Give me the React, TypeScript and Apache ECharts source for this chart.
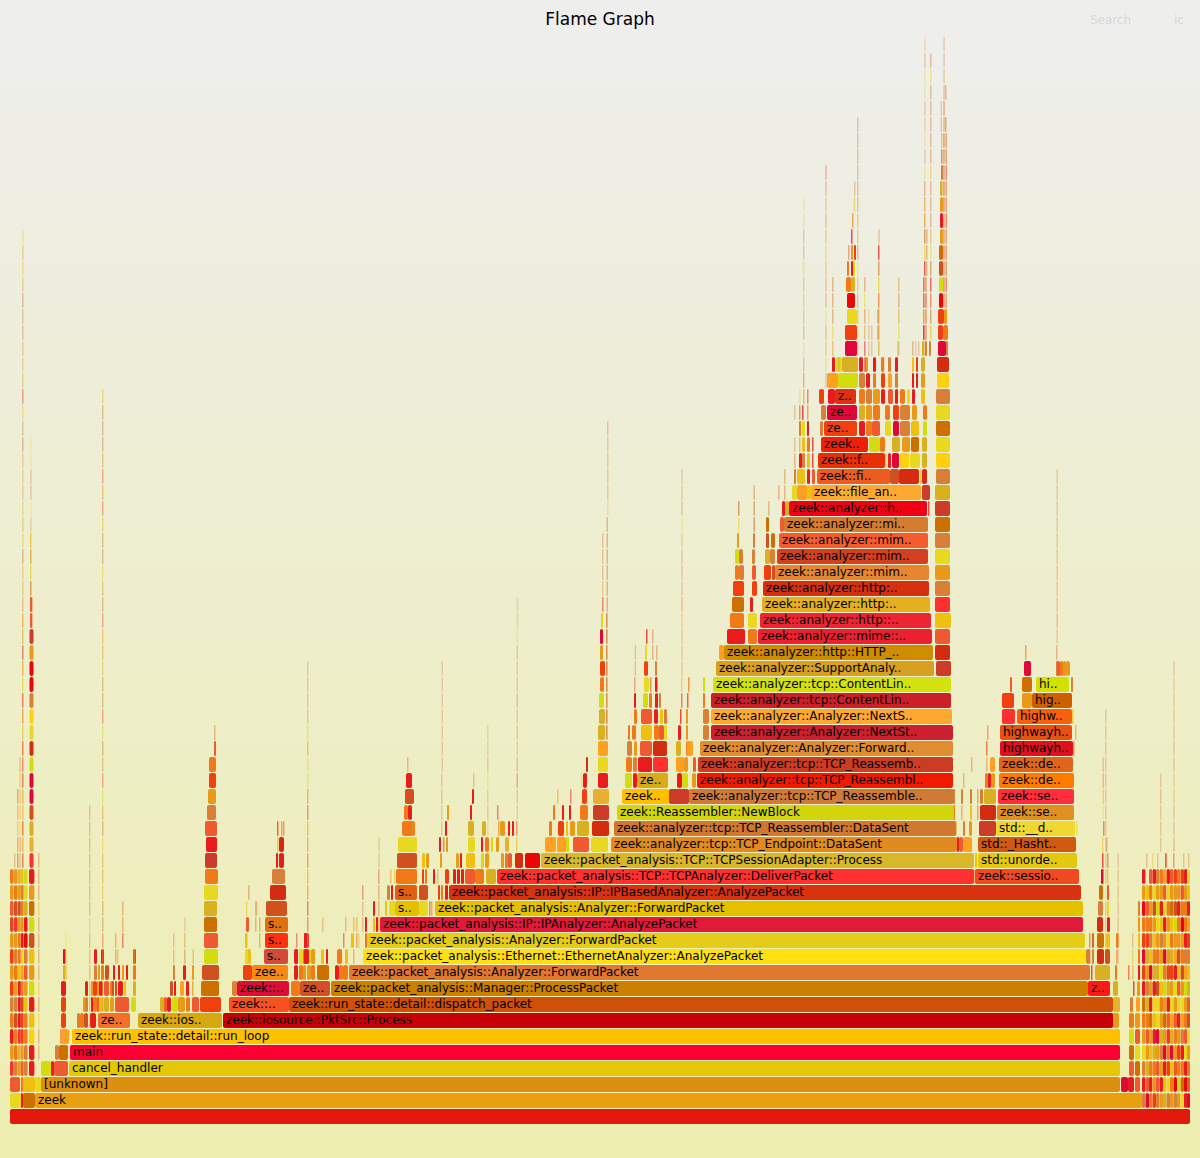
import React, { useEffect, useRef } from "react";
import * as echarts from "echarts";

// ---------- data: [level, firstSample, sampleCount, label]
const frames: [number, number, number, string][] = [
  [0, 10, 1180, ""],
  [1, 35, 1107, "zeek"],
  [2, 41, 1079, "[unknown]"],
  [3, 69, 1051, "cancel_handler"],
  [4, 70, 1050, "main"],
  [5, 72, 1048, "zeek::run_state::detail::run_loop"],
  [6, 98, 32, "ze.."],
  [6, 138, 84, "zeek::ios.."],
  [6, 223, 890, "zeek::iosource::PktSrc::Process"],
  [7, 229, 60, "zeek::.."],
  [7, 289, 824, "zeek::run_state::detail::dispatch_packet"],
  [8, 237, 52, "zeek::.."],
  [8, 300, 30, "ze.."],
  [8, 331, 757, "zeek::packet_analysis::Manager::ProcessPacket"],
  [8, 1088, 22, "z.."],
  [9, 252, 36, "zee.."],
  [9, 349, 741, "zeek::packet_analysis::Analyzer::ForwardPacket"],
  [10, 264, 24, "s.."],
  [10, 363, 723, "zeek::packet_analysis::Ethernet::EthernetAnalyzer::AnalyzePacket"],
  [11, 265, 23, "s.."],
  [11, 367, 718, "zeek::packet_analysis::Analyzer::ForwardPacket"],
  [12, 265, 23, "s.."],
  [12, 380, 703, "zeek::packet_analysis::IP::IPAnalyzer::AnalyzePacket"],
  [13, 395, 24, "s.."],
  [13, 435, 648, "zeek::packet_analysis::Analyzer::ForwardPacket"],
  [14, 395, 22, "s.."],
  [14, 449, 632, "zeek::packet_analysis::IP::IPBasedAnalyzer::AnalyzePacket"],
  [15, 497, 477, "zeek::packet_analysis::TCP::TCPAnalyzer::DeliverPacket"],
  [15, 975, 104, "zeek::sessio.."],
  [16, 541, 433, "zeek::packet_analysis::TCP::TCPSessionAdapter::Process"],
  [16, 978, 99, "std::unorde.."],
  [17, 611, 346, "zeek::analyzer::tcp::TCP_Endpoint::DataSent"],
  [17, 978, 98, "std::_Hasht.."],
  [18, 614, 342, "zeek::analyzer::tcp::TCP_Reassembler::DataSent"],
  [18, 996, 79, "std::__d.."],
  [19, 617, 337, "zeek::Reassembler::NewBlock"],
  [19, 997, 77, "zeek::se.."],
  [20, 622, 47, "zeek.."],
  [20, 689, 265, "zeek::analyzer::tcp::TCP_Reassemble.."],
  [20, 998, 76, "zeek::se.."],
  [21, 637, 31, "ze.."],
  [21, 697, 256, "zeek::analyzer::tcp::TCP_Reassembl.."],
  [21, 999, 75, "zeek::de.."],
  [22, 698, 255, "zeek::analyzer::tcp::TCP_Reassemb.."],
  [22, 999, 74, "zeek::de.."],
  [23, 700, 253, "zeek::analyzer::Analyzer::Forward.."],
  [23, 1000, 73, "highwayh.."],
  [24, 711, 242, "zeek::analyzer::Analyzer::NextSt.."],
  [24, 1000, 72, "highwayh.."],
  [25, 711, 241, "zeek::analyzer::Analyzer::NextS.."],
  [25, 1017, 55, "highw.."],
  [26, 711, 240, "zeek::analyzer::tcp::ContentLin.."],
  [26, 1032, 40, "hig.."],
  [27, 713, 238, "zeek::analyzer::tcp::ContentLin.."],
  [27, 1036, 33, "hi.."],
  [28, 716, 218, "zeek::analyzer::SupportAnaly.."],
  [29, 724, 209, "zeek::analyzer::http::HTTP_.."],
  [30, 758, 174, "zeek::analyzer::mime::.."],
  [31, 760, 171, "zeek::analyzer::http::.."],
  [32, 762, 168, "zeek::analyzer::http:.."],
  [33, 763, 166, "zeek::analyzer::http:.."],
  [34, 775, 154, "zeek::analyzer::mim.."],
  [35, 777, 151, "zeek::analyzer::mim.."],
  [36, 779, 149, "zeek::analyzer::mim.."],
  [37, 784, 144, "zeek::analyzer::mi.."],
  [38, 789, 138, "zeek::analyzer::h.."],
  [39, 811, 110, "zeek::file_an.."],
  [40, 817, 73, "zeek::fi.."],
  [41, 818, 67, "zeek::f.."],
  [42, 821, 47, "zeek.."],
  [43, 824, 33, "ze.."],
  [44, 827, 30, "ze.."],
  [45, 835, 21, "z.."],
];

// ---------- stacks of unlabelled frames: [firstSample, sampleCount, level, one shade key per level]
const baseStubs: [number, number, number, string][] = [
  [10, 11, 1, "f"], [21, 2, 1, "a"], [23, 12, 1, "p"],
  [10, 10, 2, "l"], [21, 2, 2, "c"], [23, 12, 2, "e"], [35, 6, 2, "f"],
  [41, 10, 3, "g"], [51, 3, 3, "a"], [54, 14, 3, "l"],
  [55, 4, 4, "i"], [59, 9, 4, "p"],
  [60, 1, 5, "b"], [61, 8, 5, "m"],
];
const leftEdge: [number, number, number, string][] = [
  [10, 3.6, 3, "rdacibdbdhldc"],
  [14, 3.6, 3, "icchidcidrhcd"],
  [18, 2.8, 3, "dsraaaeccdhds"],
  [21, 2.6, 3, "ldbbhcmfadcie"],
  [24, 3.6, 3, "iiccedlioakfg"],
  [29, 5.4, 3, "aaqeagdehgpda"],
  [14, 0.8, 16, "i"], [17, 1, 16, "hcsdl"], [19.4, 0.8, 16, "ilfmddi"],
  [22, 1.2, 16, "hdbsdhlbecbgdhkd"],
  [22.1, 0.8, 32, "idmledsdkdlieadsdiildedf"],
  [29.5, 4, 16, "rskhjjgnfqioodt"],
  [30, 2.4, 31, "ll"],
  [30, 1.4, 33, "ifde"],
  [30.2, 0.6, 37, "ifllff"],
  [38, 0.9, 4, "iifieiiiieiii"],
];
const earlyCluster: [number, number, number, string][] = [
  [61, 5, 6, "bba"], [63, 2.5, 9, "kj"], [65.6, 1, 9, "ef"],
  [77, 3, 6, "i"], [80, 4, 6, "c"], [84, 4, 6, "h"], [90, 6, 6, "a"],
  [83, 2, 7, "d"], [85, 3, 7, "ia"], [91, 2, 7, "ad"], [93, 4, 7, "cb"], [97, 2, 7, "ld"],
  [99, 4, 7, "ea"], [104, 5, 7, "kl"], [110, 4, 7, "dc"], [115, 14, 7, "l"], [131, 5, 7, "g"],
  [112, 2, 8, "h"], [115, 2, 8, "b"], [118, 5, 8, "a"], [124, 2, 8, "e"], [133, 3, 8, "k"],
  [94, 3, 9, "ia"], [98, 2, 9, "d"], [101, 3, 9, "ca"], [105, 4, 9, "h"], [113, 2, 9, "a"],
  [118, 2, 9, "a"], [122, 2, 9, "d"], [126, 2, 9, "a"], [133, 3, 9, "ch"],
  [102, 0.9, 6, "iifidliieddfidfldifliieddlidfiieldldiiie"],
  [89, 0.8, 6, "iiiiiieiiiiiii"],
  [65.4, 0.5, 11, "f"], [115, 1, 10, "cc"], [122, 1, 11, "aci"], [117, 0.8, 10, "i"],
  [133.5, 0.8, 10, "e"], [102, 0.8, 7, "d"],
  [160, 4, 7, "k"], [164, 3, 7, "l"], [167, 4, 7, "a"], [172, 6, 7, "g"], [178, 7, 7, "d"],
  [186, 4, 7, "c"], [192, 7, 7, "l"],
  [170, 3, 8, "h"], [174, 2, 8, "a"], [180, 4, 8, "m"], [186, 3, 8, "a"], [192, 1.5, 8, "d"],
  [173, 2, 9, "i"], [183, 3, 9, "a"], [192, 2, 9, "d"],
  [173, 0.8, 10, "ii"], [184, 1, 10, "id"], [192.5, 1, 10, "d"], [184, 0.6, 12, "i"],
];
const midSpire: [number, number, number, string][] = [
  [200, 21, 7, "b"], [201, 18, 8, "p"], [202, 17, 9, "h"],
  [204, 14, 10, "g"], [204, 14, 11, "l"], [204, 13, 12, "p"], [204, 13, 13, "k"],
  [204, 14, 14, "f"], [205, 13, 15, "c"], [205, 12, 16, "t"],
  [206, 11, 17, "a"], [205, 12, 18, "l"], [207, 9, 19, "i"], [208, 8, 20, "d"],
  [209, 7, 21, "b"], [209, 7, 22, "c"], [214, 2, 23, "l"], [214, 1, 24, "i"],
  [231, 3, 7, "i"], [234, 2, 7, "c"], [232, 5, 8, "i"], [243, 9, 9, "b"],
  [246, 5, 10, "e"], [245, 3, 10, "f"], [245, 2.5, 11, "e"], [246, 3, 12, "l"], [246, 1.4, 13, "f"],
  [248, 1, 14, "i"],
  [266, 21, 13, "h"], [270, 16, 14, "n"], [272, 13, 15, "i"],
  [276, 2, 16, "a"], [279, 5, 16, "an"], [277, 1.5, 17, "eb"], [281, 1.5, 17, "ad"], [283, 0.8, 18, "a"],
  [256, 0.7, 13, "i"], [259, 1, 11, "ii"], [255, 1, 12, "ic"],
  [291, 9, 8, "c"], [294, 4, 9, "aa"], [299, 4, 9, "ce"], [303, 3, 9, "di"], [307, 4, 9, "dg"],
  [311, 4, 9, "cd"], [317, 12, 9, "p"], [295, 3, 10, "a"], [299, 4, 10, "f"],
  [304, 5, 10, "aa"], [312, 3, 10, "d"], [321, 3, 10, "e"], [326, 2, 10, "a"],
  [296, 0.9, 11, "a"], [304, 2, 11, "a"],
  [307, 1, 11, "dbacdlidhiffdf"], [307, 0.7, 25, "iiii"],
  [322, 0.8, 12, "i"], [335, 4, 9, "a"], [339, 4, 9, "c"], [343, 5, 9, "c"], [337, 5, 10, "c"],
  [345, 3, 10, "e"], [343, 1, 11, "a"], [351, 3, 11, "e"], [353, 1, 12, "d"],
  [353, 1, 10, "i"], [345, 0.9, 12, "c"],
  [341, 4, 8, "a"], [345, 4, 8, "e"],
];
const forwardCluster: [number, number, number, string][] = [
  [356, 1, 11, "ld"], [358, 1, 11, "e"], [365, 2, 11, "ca"], [362, 0.8, 12, "iia"],
  [373, 2, 12, "ea"], [376, 2, 12, "a"], [378, 1, 12, "dcil"], [378.4, 0.7, 16, "ii"],
  [385, 2, 13, "e"], [389, 6, 13, "f"], [387, 3, 14, "i"], [391, 2, 14, "a"],
  [392, 2, 12, "a"], [394, 1, 15, "e"], [390, 1, 15, "d"],
  [419, 9, 13, "f"], [429, 1, 13, "a"], [431, 1.2, 13, "c"],
  [419, 9, 14, "h"], [438, 2, 14, "b"], [441, 2, 14, "c"], [445, 3, 14, "a"],
  [396, 21, 15, "c"], [422, 2, 15, "b"], [425, 2, 15, "c"], [433, 2, 15, "a"],
  [437, 1, 15, "d"], [445, 4, 15, "b"], [453, 3, 15, "a"], [457, 3, 15, "a"], [461, 3, 15, "a"],
  [465, 10, 15, "l"], [475, 9, 15, "c"], [486, 10, 15, "k"],
  [397, 20, 16, "h"], [422, 3, 16, "e"], [426, 3, 16, "d"], [440, 2, 16, "d"], [456, 3, 16, "d"],
  [460, 2, 16, "a"], [466, 9, 16, "e"], [481, 3, 16, "g"], [485, 4, 16, "d"],
  [501, 3, 16, "d"], [505, 3, 16, "i"], [508, 4, 16, "l"], [515, 8, 16, "n"], [525, 15, 16, "o"],
  [398, 19, 17, "f"], [439, 2, 17, "a"], [443, 1.5, 17, "c"], [446, 2, 17, "d"], [468, 7, 17, "f"],
  [481, 2, 17, "a"], [485, 4, 17, "c"], [491, 2, 17, "g"], [496, 3, 17, "d"], [505, 4, 17, "s"],
  [402, 13, 18, "c"], [408, 4, 19, "a"], [404, 4, 19, "c"], [405, 9, 20, "h"], [406, 6, 21, "a"],
  [412, 1, 18, "d"], [407, 1, 22, "i"],
  [445, 2, 18, "a"], [447, 2, 19, "d"], [441, 0.7, 18, "iiii"], [441.5, 0.7, 22, "iiiiiii"],
  [468, 6, 18, "k"], [470, 2, 19, "a"], [472, 2, 20, "a"], [473, 1, 21, "d"],
  [482, 4, 18, "k"], [487, 0.7, 18, "eidfi"], [487, 0.5, 23, "ii"], [500, 5, 18, "d"],
  [498, 1.2, 18, "c"], [497, 1, 19, "a"], [508, 2, 18, "a"], [512, 2, 18, "a"], [516, 1.2, 17, "el"],
  [516.5, 0.7, 19, "dialdiilidif"], [516.7, 0.5, 31, "ii"],
];
const tcpLeftCluster: [number, number, number, string][] = [
  [545, 11, 17, "m"], [557, 9, 17, "m"], [566, 3, 17, "g"], [573, 16, 17, "l"], [591, 17, 17, "f"],
  [549, 3, 18, "c"], [558, 6, 18, "b"], [566, 2, 18, "e"], [570, 5, 18, "d"], [577, 12, 18, "k"], [592, 17, 18, "n"],
  [553, 2, 19, "c"], [562, 2, 19, "a"], [569, 2, 19, "a"], [580, 8, 19, "c"], [593, 16, 19, "t"],
  [557, 1, 20, "d"], [570, 1, 20, "a"], [582, 5, 20, "b"], [593, 16, 20, "s"],
  [581, 1, 21, "f"], [583, 4, 21, "a"], [598, 10, 21, "a"], [586, 2, 22, "n"], [598, 10, 22, "f"],
  [598, 10, 23, "m"], [598, 7, 24, "k"], [599, 6, 25, "k"], [599, 5, 26, "g"], [600, 4, 27, "c"],
  [600, 5, 28, "b"], [600, 3, 29, "d"], [600, 3, 30, "j"], [601, 2, 31, "g"], [602, 1, 32, "a"],
  [602, 0.8, 33, "diii"], [606, 1.6, 24, "iiiiiiii"], [606.5, 1, 32, "iiiiii"], [607, 0.7, 38, "eiiiil"],
  [625, 7, 21, "g"], [633, 4, 21, "a"], [626, 6, 22, "c"], [627, 5, 23, "i"], [633, 4, 22, "i"],
  [634, 3, 23, "d"], [628, 2, 24, "i"], [632, 4, 24, "c"], [634, 3, 25, "c"], [634, 2, 26, "a"], [634, 1, 27, "l"],
  [634.6, 0.8, 28, "ii"],
  [638, 14, 22, "a"], [653, 15, 22, "r"], [640, 12, 23, "l"], [653, 14, 23, "n"],
  [641, 11, 24, "e"], [654, 5, 24, "c"], [659, 5, 24, "l"], [664, 3, 24, "f"],
  [641, 11, 25, "l"], [654, 4, 25, "a"], [660, 3, 25, "e"], [664, 3, 25, "i"],
  [643, 5, 26, "g"], [649, 3, 26, "c"], [655, 3, 26, "a"], [659, 2, 26, "i"],
  [644, 5, 27, "f"], [650, 1.5, 27, "i"], [655, 2.5, 27, "a"], [644, 4, 28, "b"], [655, 2, 28, "i"],
  [645, 2, 29, "f"], [646, 1.5, 30, "a"], [652, 1, 29, "i"], [652, 1, 30, "i"], [656, 1, 29, "i"],
  [669, 20, 20, "t"], [677, 5, 21, "a"], [682, 6, 21, "g"], [692, 4, 21, "d"], [676, 8, 22, "m"],
  [684, 4, 22, "d"], [676, 5, 23, "k"], [686, 4, 23, "c"], [678, 3, 24, "a"], [686, 2, 24, "d"],
  [680, 1.5, 25, "a"], [686, 2, 25, "d"], [681, 1, 26, "a"], [687, 1.5, 26, "b"], [681, 0.8, 27, "d"],
  [688, 1.5, 27, "c"], [703, 6, 24, "i"], [703, 6, 25, "i"], [703, 2, 26, "c"], [703, 2, 27, "g"],
  [687, 6, 23, "m"], [681.3, 0.7, 28, "iiidliiidfiii"], [693, 3, 22, "l"],
];
const mimeCluster: [number, number, number, string][] = [
  [719, 5, 29, "m"], [727, 18, 30, "a"], [748, 9, 30, "c"], [730, 14, 31, "c"], [748, 9, 31, "f"],
  [732, 12, 32, "p"], [750, 3, 32, "a"], [733, 11, 33, "b"], [752, 5, 33, "b"],
  [735, 4, 34, "c"], [739, 5, 34, "i"], [752, 4, 34, "l"], [764, 7, 34, "b"], [772, 3, 34, "h"],
  [735, 4, 35, "g"], [739, 4, 35, "i"], [752, 3, 35, "i"], [765, 5, 35, "k"], [770, 5, 35, "i"],
  [737, 2, 36, "d"], [753, 2, 36, "i"], [766, 3, 36, "h"], [771, 4, 36, "p"],
  [738, 1, 37, "f"], [753.5, 1.4, 37, "i"], [766, 3, 37, "p"], [780, 4, 37, "l"],
  [738, 1.4, 38, "i"], [753.5, 1.2, 38, "i"], [768, 1, 38, "i"], [782, 3, 38, "a"], [785, 4, 38, "k"],
  [753.5, 1, 39, "i"], [778, 1, 39, "i"], [784, 1, 39, "i"], [792, 5, 39, "f"], [797, 10, 39, "m"], [807, 4, 39, "e"],
  [784, 1, 40, "i"], [794, 2, 40, "i"], [797, 8, 40, "e"], [807, 3, 40, "a"], [812, 3, 40, "l"],
  [890, 9, 40, "h"], [899, 20, 40, "n"], [920, 1.5, 40, "e"], [922, 5, 40, "n"],
  [922, 8, 39, "t"], [928, 1.5, 38, "a"],
  [794, 1, 41, "i"], [799, 3, 41, "a"], [802, 3, 41, "i"], [807, 3, 41, "e"], [812, 1.5, 41, "a"],
  [885, 1.5, 41, "e"], [888, 3, 41, "a"], [892, 7, 41, "j"], [900, 9, 41, "q"], [910, 10, 41, "f"], [922, 5, 41, "k"],
  [794, 0.8, 42, "i"], [799, 1, 42, "i"], [802, 3, 42, "e"], [807, 3, 42, "c"], [812, 1.5, 42, "a"],
  [869, 11, 42, "g"], [880, 5, 42, "c"], [892, 8, 42, "k"], [902, 8, 42, "d"], [911, 8, 42, "p"], [922, 5, 42, "k"],
  [799, 2, 43, "c"], [802, 3, 43, "f"], [807, 2, 43, "a"], [820, 3, 43, "i"],
  [859, 6, 43, "a"], [866, 6, 43, "c"], [872, 8, 43, "l"], [885, 6, 43, "f"], [893, 6, 43, "j"], [900, 10, 43, "i"], [911, 8, 43, "e"], [923, 4, 43, "g"],
  [794, 0.8, 44, "i"], [799, 1.4, 44, "i"], [802, 1.5, 44, "a"], [807, 1.5, 44, "d"], [821, 5, 44, "i"],
  [859, 6, 44, "k"], [866, 6, 44, "d"], [873, 7, 44, "c"], [885, 5, 44, "c"], [893, 6, 44, "b"], [900, 10, 44, "i"], [912, 5, 44, "d"], [923, 4, 44, "c"],
  [799, 1, 45, "f"], [803, 1, 45, "i"], [807, 1, 45, "a"], [819, 5, 45, "b"], [828, 7, 45, "a"],
  [859, 6, 45, "c"], [866, 6, 45, "i"], [873, 7, 45, "d"], [881, 4, 45, "a"], [888, 5, 45, "l"], [895, 3, 45, "a"], [900, 5, 45, "c"], [907, 3, 45, "f"], [912, 3, 45, "a"], [921, 4, 45, "e"],
  [803, 1, 46, "i"], [827, 11, 46, "m"], [838, 20, 46, "g"], [859, 6, 46, "i"], [866, 4, 46, "a"], [873, 3, 46, "c"],
  [881, 4, 46, "b"], [888, 4, 46, "m"], [895, 3, 46, "i"], [912, 2, 46, "a"], [916, 2, 46, "a"], [921, 4, 46, "d"],
  [832, 3, 47, "a"], [836, 6, 47, "f"], [842, 16, 47, "k"], [859, 4, 47, "a"], [865, 3, 47, "d"], [873, 3, 47, "a"],
  [881, 3, 47, "c"], [888, 3, 47, "i"], [895, 3, 47, "a"], [912, 2, 47, "e"], [916, 2, 47, "b"], [921, 4, 47, "k"],
];
const mimeCrown: [number, number, number, string][] = [
  [845, 12, 48, "j"], [845, 12, 49, "b"], [847, 10, 50, "f"], [847, 8, 51, "o"],
  [846, 5, 52, "c"], [851, 4, 52, "k"], [847, 2, 53, "c"], [851, 2, 53, "a"], [853, 2, 53, "g"],
  [848, 1, 54, "l"], [851, 2, 54, "d"], [854, 2, 54, "b"], [851, 1.5, 55, "a"], [852, 1.5, 56, "d"],
  [853, 0.7, 57, "f"], [854, 1, 57, "f"], [854, 0.8, 58, "i"],
  [857, 0.8, 48, "ifdidflddiiiiii"], [825.2, 0.8, 46, "ifdifiidedidil"],
  [803, 0.7, 47, "ifiidieiiff"], [832, 1, 48, "dfiii"], [838, 0.7, 47, "i"],
  [864, 1, 47, "ajdifi"], [868, 0.7, 48, "iie"], [878, 1.4, 48, "kddcfia"], [877, 1, 49, "ii"], [878.3, 0.8, 55, "i"],
  [871, 0.8, 48, "ii"], [889, 0.8, 47, "i"], [898, 1, 48, "kfdid"], [897, 0.7, 48, "i"], [883, 0.7, 47, "i"],
  [912, 1, 48, "i"], [915, 0.7, 48, "i"], [918, 0.7, 48, "i"],
  [922, 2.5, 48, "k"], [925, 2, 48, "i"], [923, 1.6, 49, "adll"], [925.2, 1.4, 49, "iili"],
  [924, 1.4, 53, "afid"], [926, 1, 53, "iii"], [924, 1.2, 57, "d"],
  [924, 1, 58, "i"], [924.2, 0.7, 59, "fifdiffie"],
  [929, 2, 48, "i"], [930, 1.2, 49, "eilai"],
  [930, 0.9, 54, "fdiiieiiiiifi"],
  [938, 8, 48, "j"], [946, 2, 48, "i"], [938, 5, 49, "b"], [943, 5, 49, "c"], [938, 6, 50, "b"], [944, 3, 50, "d"],
  [939, 4, 51, "o"], [939, 4, 52, "g"], [939, 4, 53, "h"],
  [939, 4, 54, "p"], [940, 3, 55, "d"], [940, 3, 56, "a"],
  [940, 3, 57, "d"], [940, 2.5, 58, "k"], [941, 2, 59, "i"],
  [941, 1.5, 60, "i"], [941, 1, 61, "d"], [943.2, 1.3, 51, "lliliilliii"], [945.5, 1.3, 51, "iliiiliilii"],
  [940.5, 0.8, 62, "i"], [943.3, 1, 62, "il"],
  [945, 1.2, 62, "i"], [940.5, 0.7, 63, "i"], [943.3, 0.8, 64, "id"], [945, 1, 64, "i"],
  [943.3, 0.7, 66, "ii"],
];
const rightSide: [number, number, number, string][] = [
  [936, 15, 28, "t"], [935, 15, 29, "n"], [935, 15, 30, "l"], [935, 16, 31, "e"], [935, 15, 32, "r"], [935, 15, 33, "i"],
  [935, 15, 34, "d"], [935, 15, 35, "f"], [935, 15, 36, "i"], [935, 15, 37, "p"], [935, 15, 38, "t"], [935, 15, 39, "k"],
  [936, 14, 40, "i"], [936, 14, 41, "q"], [936, 14, 42, "f"], [936, 14, 43, "p"], [936, 14, 44, "f"], [936, 14, 45, "i"],
  [937, 12, 46, "q"], [937, 12, 47, "n"],
  [957, 2, 17, "a"], [959, 4, 17, "l"], [963, 9, 17, "m"], [963, 2, 18, "i"], [969, 3, 18, "d"],
  [953, 2, 19, "c"], [961, 1, 19, "c"], [970, 2, 19, "e"], [953, 2, 20, "i"], [961, 2, 20, "i"], [970, 2, 20, "i"],
  [963, 1, 21, "i"], [971, 1, 22, "i"], [975, 2, 16, "e"], [973.5, 1, 15, "i"], [955.5, 1, 18, "d"],
  [979, 17, 18, "t"], [980, 16, 19, "n"], [984, 12, 20, "k"], [980, 3, 20, "i"], [985, 3, 21, "c"], [988, 3, 21, "a"], [991, 4, 21, "d"],
  [986, 1, 22, "i"], [990, 5, 22, "m"], [986, 1.5, 23, "l"], [987, 1, 24, "l"], [977, 1.2, 19, "i"], [977, 1.2, 20, "i"], [980, 1.5, 17, "i"],
  [1002, 13, 25, "r"], [1002, 12, 26, "b"], [1022, 10, 26, "d"], [1010, 2, 27, "l"], [1022, 10, 27, "p"], [1024, 7, 28, "j"],
  [1025, 1.5, 29, "d"], [1056, 2, 28, "i"], [1057, 3, 28, "l"], [1060, 3, 28, "c"], [1063, 3, 28, "d"], [1066, 4, 28, "d"],
  [1071, 2, 27, "i"], [1056, 1, 29, "i"], [1056.4, 0.7, 30, "iliiiiiiiii"],
  [1072, 1.5, 25, "e"], [1073, 1.5, 23, "i"], [1075, 1, 24, "i"], [1076, 1.4, 18, "f"],
  [1005, 0.7, 19, "ii"], [1105, 0.7, 10, "iiiifidiiiiiiiii"], [1117.4, 0.7, 10, "iiiiiii"],
  [1095, 15, 9, "k"], [1097, 7, 10, "n"], [1105, 5, 10, "h"], [1097, 7, 11, "p"], [1106, 4, 11, "e"],
  [1097, 6, 12, "n"], [1107, 3, 12, "a"], [1098, 5, 13, "i"], [1107, 2, 13, "f"], [1099, 4, 14, "p"], [1107, 2, 14, "l"],
  [1101, 2.5, 15, "j"], [1107, 1.5, 15, "e"], [1102, 1.5, 16, "a"], [1107, 1.2, 16, "l"],
  [1102, 1, 17, "e"], [1106, 1, 17, "i"], [1103, 1, 18, "a"], [1102.5, 0.8, 19, "fdli"], [1113, 5, 8, "k"], [1113, 7, 7, "s"], [1112, 7, 6, "d"],
  [1086, 4, 10, "i"], [1091, 1.5, 9, "a"], [1089, 1.5, 10, "i"], [1092, 2, 10, "i"], [1089, 1.5, 11, "i"], [1092, 2, 11, "l"],
  [1115, 2, 9, "c"], [1116, 1, 10, "l"], [1116, 2.5, 11, "c"],
];
const rightEdge: [number, number, number, string][] = [
  [1121, 7, 2, "j"], [1128, 6, 2, "a"], [1135, 5, 2, "l"],
  [1129, 5, 3, "lpgc"], [1135, 5, 3, "pfld"], [1130, 3, 7, "i"], [1136, 4, 7, "m"], [1133, 1.5, 8, "a"],
  [1137, 3, 8, "d"], [1128, 1.4, 9, "l"], [1132, 1, 9, "d"], [1138, 2, 9, "a"], [1132, 1, 10, "e"], [1138, 2, 10, "c"],
  [1132, 0.8, 11, "i"], [1138, 2, 11, "e"], [1138, 2, 12, "d"], [1138, 2, 13, "i"],
  [1142, 3.4, 1, "iaifdcpabjbcoda"],
  [1145.6, 3.4, 1, "jlkdlckidkbcle"],
  [1149, 3.4, 1, "cacedpadjeicdcl"],
  [1152.6, 3.4, 1, "bdckaefakcedhfa"],
  [1156, 3.4, 1, "illdjffhkcdfgdi"],
  [1159.6, 3.4, 1, "dadikdcefdieadc"],
  [1163, 3.4, 1, "keajdpdgcjdaflm"],
  [1166.6, 3.4, 1, "ifbcrlakhdfdcfa"],
  [1170, 3.4, 1, "dcejkmfdbkcepdl"],
  [1173.6, 3.4, 1, "ioldcldfamdghdb"],
  [1177, 3.4, 1, "dgcbdaflehdcadc"],
  [1180.6, 3.4, 1, "fpcaimfdhcdoclb"],
  [1184, 3.4, 1, "aoaflcdgmiaccda"],
  [1187, 3, 1, "jlcdfhlkecbmaef"],
  [1146, 0.8, 16, "i"], [1152, 0.8, 16, "e"], [1157, 0.8, 16, "i"], [1165, 1.8, 16, "l"], [1173, 0.8, 16, "a"], [1183, 0.8, 16, "i"], [1188, 0.8, 16, "i"],
  [1173.2, 0.7, 17, "liiddiiiiidi"], [1160, 0.7, 17, "iiili"],
];
const towerGroups = [baseStubs, leftEdge, earlyCluster, midSpire, forwardCluster, tcpLeftCluster, mimeCluster, mimeCrown, rightSide, rightEdge];

// ---------- styles
const frameFills = [
  "#e2190c", "#e8a010", "#dd9010", "#e4c808", "#fb0032", "#ffc000", "#f4702a", "#d8a810", "#c80008",
  "#f85020", "#d05008", "#e00c38", "#d05028", "#cc8000", "#ff1818", "#f88810", "#e07830", "#d04c38",
  "#ffe010", "#ff3010", "#e4cc18", "#e07010", "#e01a38", "#e4c000", "#e4c000", "#e06010", "#d83210",
  "#ff3030", "#f04a20", "#d8b828", "#e4c810", "#e08a20", "#d05a10", "#d07830", "#f0d830", "#d4d40c",
  "#e09020", "#ffc000", "#d07a38", "#ff2d3e", "#d8ac18", "#f01a00", "#ff7a00", "#cc3c24", "#e0651c",
  "#e08c30", "#e01020", "#cc2030", "#e85010", "#ffa830", "#f86010", "#cc2028", "#cc6000", "#d4e010",
  "#d4e000", "#d8a020", "#d08c00", "#ec2030", "#ec2434", "#e4b020", "#d43010", "#e88530", "#d24020",
  "#f45c30", "#d47c30", "#f00014", "#ffa830", "#ec5c20", "#e83008", "#ee2008", "#f04010", "#e00838", "#e03010",
];
const shades: Record<string, string> = {
  a: "#e81c1c", b: "#f04010", c: "#f07a18", d: "#e89a18", e: "#f0c010", f: "#e8d820", g: "#d4dc10",
  h: "#d05020", i: "#d88038", j: "#e00838", k: "#d8b020", l: "#f05a30", m: "#ffa020", n: "#d42c10",
  o: "#e80808", p: "#cc7000", q: "#ffd010", r: "#ff3030", s: "#e8b030", t: "#cc3c28",
};
const FONT = "'DejaVu Sans', Verdana, sans-serif";

type Mark = { start: number; level: number; width: number; fill: string; label: string };
const marks: Mark[] = [];
towerGroups.forEach((group) =>
  group.forEach(([start, width, level, keys]) =>
    keys.split("").forEach((key, i) =>
      marks.push({ start, level: level + i, width, fill: shades[key], label: "" })
    )
  )
);
frames.forEach(([level, start, width, label], i) =>
  marks.push({ start, level, width, fill: frameFills[i], label })
);

function renderFrame(params: any, api: any) {
  const m = marks[params.dataIndex];
  const topLeft = api.coord([api.value(0), api.value(1) + 1]);
  const bottomRight = api.coord([api.value(0) + api.value(2), api.value(1)]);
  const w = bottomRight[0] - topLeft[0];
  const h = bottomRight[1] - topLeft[1] - 1;
  // sub-pixel frames read as faint hairlines, about 1.5px wide
  const drawn = Math.max(w, 1.5);
  const opacity = Math.min(1, Math.max(0.25, 0.55 * w - 0.05));
  const children: any[] = [
    {
      type: "rect",
      shape: { x: topLeft[0], y: topLeft[1], width: drawn, height: h, r: 2 },
      style: { fill: m.fill, opacity },
    },
  ];
  if (m.label) {
    children.push({
      type: "text",
      style: {
        x: topLeft[0] + 3,
        y: topLeft[1] + 7,
        text: m.label,
        fill: "#000",
        font: `12px ${FONT}`,
        verticalAlign: "middle",
        align: "left",
      },
    });
  }
  return { type: "group", children };
}

export default function App() {
  const ref = useRef<HTMLDivElement>(null);
  useEffect(() => {
    document.body.style.margin = "0";
    const chart = echarts.init(ref.current!, undefined, { renderer: "svg" });
    chart.setOption({
      animation: false,
      backgroundColor: new echarts.graphic.LinearGradient(0, 0, 0, 1, [
        { offset: 0, color: "#eeeeee" },
        { offset: 1, color: "#eeeeb0" },
      ]),
      title: {
        text: "Flame Graph",
        left: "center",
        top: 5,
        textStyle: { fontFamily: FONT, fontSize: 17, fontWeight: "normal", color: "#000" },
      },
      graphic: [
        { type: "text", left: 1090, top: 14, style: { text: "Search", font: `12px ${FONT}`, fill: "#d8d8d8" } },
        { type: "text", left: 1174, top: 14, style: { text: "ic", font: `12px ${FONT}`, fill: "#d8d8d8" } },
      ],
      grid: { left: 10, width: 1180, top: 5, height: 1120 },
      xAxis: { type: "value", min: 10, max: 1190, show: false },
      yAxis: { type: "value", min: 0, max: 70, show: false },
      series: [
        {
          type: "custom",
          coordinateSystem: "cartesian2d",
          clip: false,
          silent: true,
          progressive: 0,
          renderItem: renderFrame,
          encode: { x: 0, y: 1 },
          data: marks.map((m) => [m.start, m.level, m.width]),
        },
      ],
    });
    return () => chart.dispose();
  }, []);
  return <div ref={ref} style={{ width: 1200, height: 1158 }} />;
}
